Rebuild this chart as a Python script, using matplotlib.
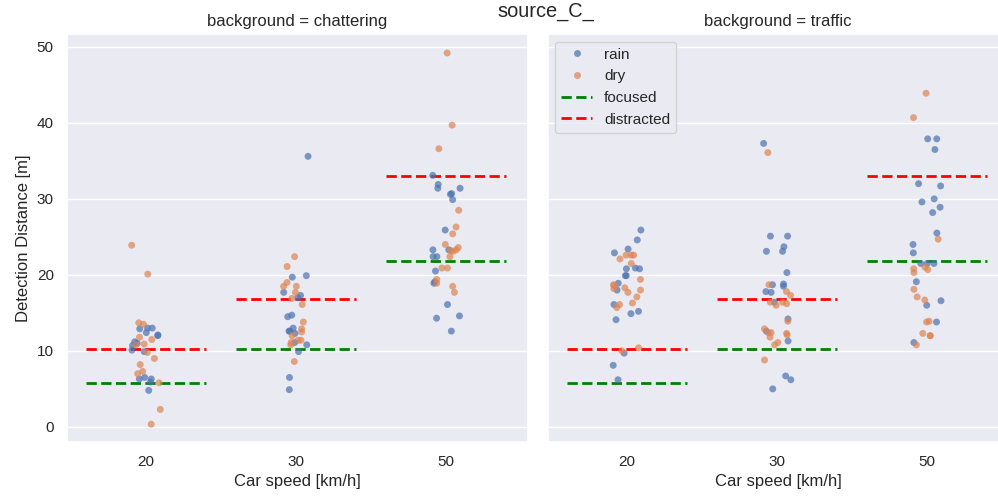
import numpy as np
import pandas as pd
import seaborn as sns
import matplotlib.pyplot as plt
from matplotlib.lines import Line2D

speeds = ['20', '30', '50']
backgrounds = ['chattering', 'traffic']

# detection distances, per background / speed / weather
chat_rain = {
    '20': [13.0, 13.0, 12.9, 12.4, 12.0, 12.1, 11.2, 11.0, 10.7, 9.9, 10.1, 6.5, 5.9, 6.3, 6.3, 4.8],
    '30': [35.6, 19.9, 19.7, 17.7, 17.3, 17.0, 14.7, 14.5, 13.0, 12.3, 12.6, 12.6, 11.1, 10.8, 9.9, 6.5, 4.9],
    '50': [33.1, 31.9, 31.4, 31.4, 30.7, 30.6, 29.9, 25.9, 23.3, 23.3, 22.4, 22.4, 20.5, 18.9, 19.1,
           16.1, 14.3, 14.6, 12.6],
}
chat_dry = {
    '20': [23.9, 20.1, 13.7, 13.5, 11.8, 11.5, 10.9, 10.8, 9.8, 9.0, 8.2, 7.0, 7.3, 5.8, 2.3, 0.35],
    '30': [22.4, 21.1, 19.0, 18.5, 18.5, 17.7, 16.9, 16.1, 13.8, 12.5, 12.9, 12.0, 11.4, 11.1, 11.4, 10.8, 8.6],
    '50': [49.2, 39.7, 36.6, 28.5, 26.3, 25.4, 24.0, 23.3, 23.1, 23.2, 23.6, 22.4, 20.9, 20.9, 19.4,
           18.9, 18.5, 17.7],
}
traf_rain = {
    '20': [25.9, 24.6, 23.4, 22.9, 20.8, 20.8, 20.9, 19.9, 19.9, 18.9, 18.0, 16.1, 15.2, 14.9, 14.1,
           9.7, 8.1, 6.2],
    '30': [37.3, 25.1, 25.1, 23.7, 23.1, 23.1, 20.3, 18.8, 18.7, 18.5, 17.8, 17.7, 16.4, 14.2, 12.6,
           11.3, 6.7, 6.2, 5.0],
    '50': [37.9, 37.9, 36.5, 32.0, 31.7, 30.0, 29.6, 28.9, 28.2, 25.5, 24.0, 22.9, 21.5, 21.5, 21.5,
           19.1, 16.6, 16.0, 13.8, 11.1],
}
traf_dry = {
    '20': [22.6, 22.6, 22.6, 22.1, 21.5, 19.4, 18.3, 18.2, 18.7, 18.6, 18.0, 17.7, 17.1, 15.7, 16.1,
           16.3, 10.4, 10.0],
    '30': [36.1, 18.7, 17.8, 17.3, 16.4, 16.0, 16.4, 16.2, 13.9, 12.9, 12.4, 12.3, 12.1, 12.4, 11.8,
           10.8, 11.1, 8.8],
    '50': [43.9, 40.7, 24.7, 21.0, 20.8, 20.3, 20.7, 18.1, 17.1, 16.7, 13.8, 13.9, 12.0, 12.3, 12.0, 10.8],
}

focused = [5.8, 10.2, 21.8]
distracted = [10.2, 16.8, 33.0]

data = {'chattering': {'rain': chat_rain, 'dry': chat_dry},
        'traffic': {'rain': traf_rain, 'dry': traf_dry}}

rows = []
for bg in backgrounds:
    for weather in ['rain', 'dry']:
        for sp in speeds:
            for d in data[bg][weather][sp]:
                rows.append({'background': bg, 'weather': weather, 'speed': sp, 'dist': d})
df = pd.DataFrame(rows)

sns.set_theme(style='darkgrid')
plt.rcParams['font.family'] = ['Liberation Sans', 'DejaVu Sans']

GREEN = '#008000'
RED = '#ff0000'

fig = plt.figure(figsize=(9.98, 4.97), dpi=100)
ax1 = fig.add_axes([0.0671, 0.1113, 0.4619, 0.8203])
ax2 = fig.add_axes([0.5488, 0.1113, 0.4619, 0.8203], sharey=ax1)

np.random.seed(3)
for ax, bg in zip([ax1, ax2], backgrounds):
    sns.stripplot(data=df[df.background == bg], x='speed', y='dist', hue='weather',
                  hue_order=['rain', 'dry'], order=speeds, alpha=0.7, size=5,
                  jitter=True, legend=False, ax=ax)
    for i in range(len(speeds)):
        ax.plot([i - 0.4, i + 0.4], [focused[i], focused[i]], color=GREEN, ls='--', lw=2)
        ax.plot([i - 0.4, i + 0.4], [distracted[i], distracted[i]], color=RED, ls='--', lw=2)
    ax.set_title(f'background = {bg}')
    ax.set_xlabel('Car speed [km/h]')
    ax.set_xlim(-0.527, 2.547)
    ax.set_ylim(-1.95, 51.7)

ax1.set_ylabel('Detection Distance [m]')
ax2.set_ylabel('')
ax2.tick_params(labelleft=False)

pal = sns.color_palette()
handles = [
    Line2D([], [], marker='o', ls='', color=pal[0], alpha=0.7, markersize=5, markeredgewidth=0),
    Line2D([], [], marker='o', ls='', color=pal[1], alpha=0.7, markersize=5, markeredgewidth=0),
    Line2D([], [], color=GREEN, ls='--', lw=2),
    Line2D([], [], color=RED, ls='--', lw=2),
]
ax2.legend(handles, ['rain', 'dry', 'focused', 'distracted'], loc='upper left', fontsize=11)

fig.suptitle('source_C_', x=0.547, y=0.995, va='top', fontsize=14.4)

fig.savefig('out.png', dpi=100)
